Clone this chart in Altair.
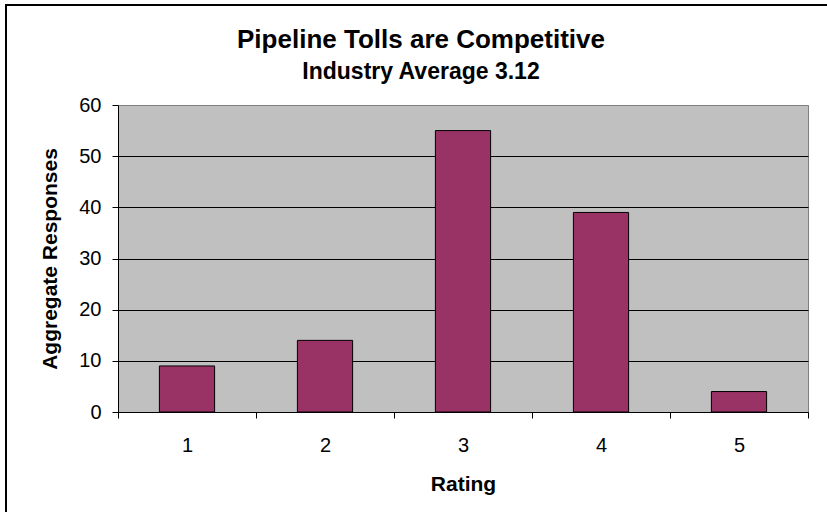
import altair as alt
import pandas as pd

ratings = [1, 2, 3, 4, 5]
responses = [9, 14, 55, 39, 4]
x_tick_positions = [0.5, 1.5, 2.5, 3.5, 4.5, 5.5]
y_ticks = [0, 10, 20, 30, 40, 50, 60]

df = pd.DataFrame({"Rating": ratings, "Responses": responses})

FONT = "Liberation Sans"
W, H = 690, 307

bars = (
    alt.Chart(df)
    .transform_calculate(x0="datum.Rating - 0.2", x1="datum.Rating + 0.2")
    .mark_bar(color="#993366", stroke="#000000", strokeWidth=1)
    .encode(
        x=alt.X(
            "x0:Q",
            scale=alt.Scale(domain=[0.5, 5.5], nice=False, zero=False),
            axis=alt.Axis(
                title="Rating",
                values=x_tick_positions,
                labelExpr="datum.value < 5 ? format(datum.value + 0.5, 'd') : ''",
                labelOffset=W / 10,
                labelFlush=False,
                labelOverlap=False,
                grid=False,
                tickSize=6,
                tickColor="#000000",
                domainColor="#000000",
                labelFont=FONT,
                labelFontSize=20,
                labelColor="#000000",
                labelPadding=17,
                titleFont=FONT,
                titleFontSize=21,
                titleFontWeight="bold",
                titleColor="#000000",
                titlePadding=18,
            ),
        ),
        x2="x1:Q",
        y=alt.Y(
            "Responses:Q",
            scale=alt.Scale(domain=[0, 60], nice=False),
            axis=alt.Axis(
                title="Aggregate Responses",
                values=y_ticks,
                grid=True,
                gridColor=alt.ExprRef("datum.value == 60 ? '#808080' : '#000000'"),
                gridWidth=1,
                tickSize=6,
                tickColor="#000000",
                domainColor="#000000",
                labelFont=FONT,
                labelFontSize=20,
                labelColor="#000000",
                labelPadding=11,
                titleFont=FONT,
                titleFontSize=21,
                titleFontWeight="bold",
                titleColor="#000000",
                titlePadding=18,
            ),
        ),
        y2=alt.datum(0),
    )
)

one = pd.DataFrame({"a": [0]})
frame_top = (
    alt.Chart(one)
    .mark_rule(color="#000000", strokeWidth=2)
    .encode(x=alt.value(-113), x2=alt.value(W + 200), y=alt.value(-100))
)
frame_left = (
    alt.Chart(one)
    .mark_rule(color="#000000", strokeWidth=2)
    .encode(x=alt.value(-112), y=alt.value(-101), y2=alt.value(H + 200))
)

chart = (
    alt.layer(bars, frame_top, frame_left)
    .properties(
        width=W,
        height=H,
        padding={"left": 118, "top": 105, "right": 19, "bottom": 100},
        autosize=alt.AutoSizeParams(type="none"),
        title=alt.TitleParams(
            text="Pipeline Tolls are Competitive",
            subtitle="Industry Average 3.12",
            anchor="middle",
            dx=-42,
            dy=103,
            font=FONT,
            fontSize=26,
            fontWeight="bold",
            color="#000000",
            subtitleFont=FONT,
            subtitleFontSize=23,
            subtitleFontWeight="bold",
            subtitleColor="#000000",
            subtitlePadding=8,
            offset=22,
        ),
    )
    .configure(background="#FFFFFF")
    .configure_view(fill="#C0C0C0", stroke="#808080", strokeWidth=1)
)

chart.save("out.html", embed_options={"renderer": "svg", "actions": False})
